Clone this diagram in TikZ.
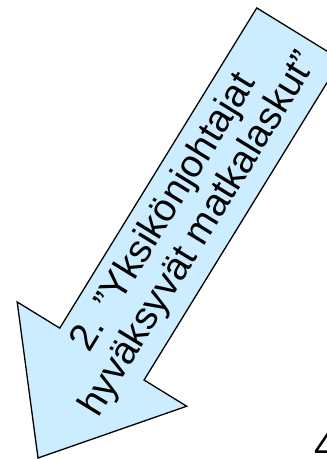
\documentclass[tikz,border=0pt]{standalone}
\usepackage{fontspec}
\setmainfont{Liberation Sans}
\usetikzlibrary{positioning}
\definecolor{arrowfill}{HTML}{CCECFF}

\begin{document}
\begin{tikzpicture}[x=1pt,y=1pt]
        \useasboundingbox (0,0) rectangle (327,459);
        \clip (0,0) rectangle (327,459);
        \begin{scope}[shift={(38,1)},rotate=58.4]
          \filldraw[fill=arrowfill,draw=black,line width=1.3pt,line join=miter]
            (0,0)--(122,99.5)--(122,49.5)--(498,49.5)--(498,-49.5)--(122,-49.5)--(122,-99.5)--cycle;
          \node[rotate=58.4,align=center,inner sep=0pt,font=\fontsize{38.5}{41}\selectfont] (arrowtext) at (275,0)
            {2. ”Yksikönjohtajat\\hyväksyvät matkalaskut”};
        \end{scope}
        \node[anchor=base west,inner sep=0pt,font=\fontsize{38.5}{41}\selectfont] (pagenum) at (314,-1) {4};
      \end{tikzpicture}
\end{document}
